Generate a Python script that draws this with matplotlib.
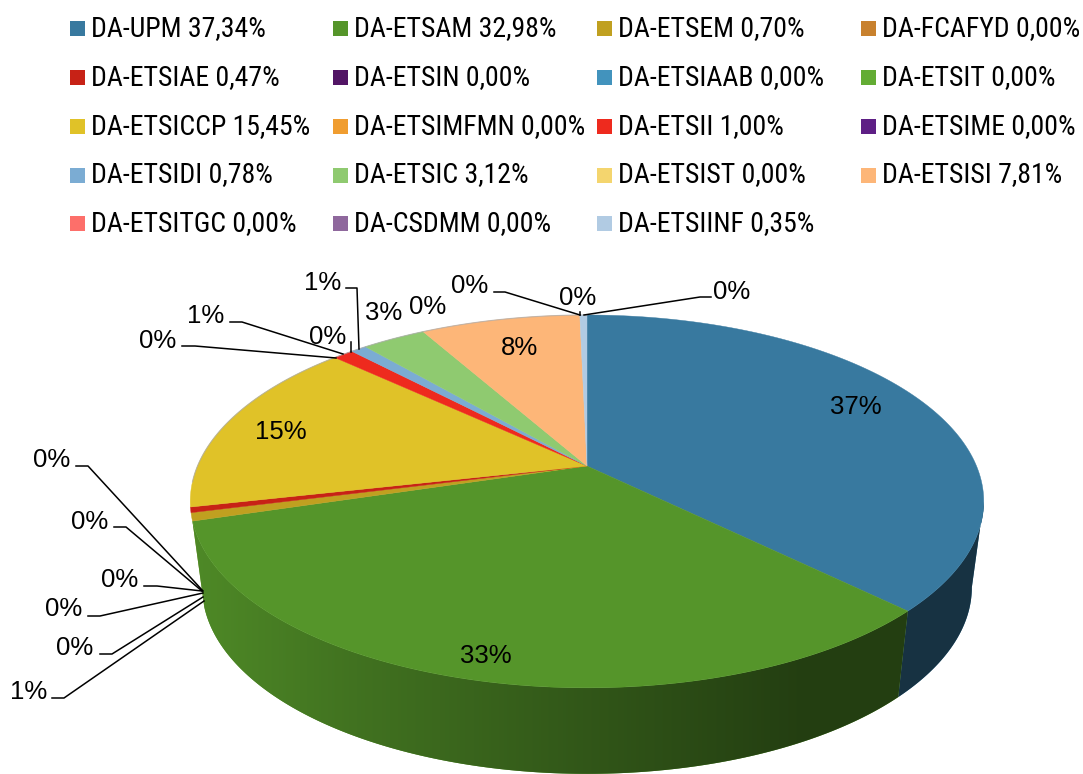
import matplotlib
matplotlib.use('Agg')
import matplotlib.pyplot as plt
import matplotlib.font_manager as fm
from matplotlib.colors import to_rgb
from matplotlib.patches import Polygon, Rectangle
import numpy as np

names = ['DA-UPM', 'DA-ETSAM', 'DA-ETSEM', 'DA-FCAFYD',
         'DA-ETSIAE', 'DA-ETSIN', 'DA-ETSIAAB', 'DA-ETSIT',
         'DA-ETSICCP', 'DA-ETSIMFMN', 'DA-ETSII', 'DA-ETSIME',
         'DA-ETSIDI', 'DA-ETSIC', 'DA-ETSIST', 'DA-ETSISI',
         'DA-ETSITGC', 'DA-CSDMM', 'DA-ETSIINF']
values = [37.34, 32.98, 0.70, 0.00,
          0.47, 0.00, 0.00, 0.00,
          15.45, 0.00, 1.00, 0.00,
          0.78, 3.12, 0.00, 7.81,
          0.00, 0.00, 0.35]
colors = ['#38799f', '#55952a', '#c0a020', '#c8812e',
          '#c72216', '#521565', '#4293bd', '#63ac34',
          '#e0c228', '#f09d30', '#ee2a1e', '#5e1f85',
          '#7bacd3', '#8fca70', '#f4d56e', '#fdb678',
          '#fd6f6a', '#8f689d', '#b1cbe3']

# label position per slice, in picture pixels
label_pos = [(856, 407), (486, 656), (29, 692), (75, 648),
             (64, 609), (120, 580), (90, 522), (52, 460),
             (281, 432), (158, 341), (206, 316), (328, 337),
             (323, 283), (384, 313), (428, 307), (519, 348),
             (470, 286), (578, 298), (732, 292)]

# leader lines, same order as the small slices
leaders = [[(52, 698), (64, 698), (204, 601)],
           [(100, 654), (112, 654), (203, 597)],
           [(88, 616), (100, 616), (203, 593)],
           [(144, 586), (157, 586), (202, 591)],
           [(114, 527), (126, 527), (202, 591)],
           [(76, 466), (88, 466), (203, 591)],
           [(182, 346), (195, 346), (336, 358)],
           [(230, 322), (242, 322), (343, 354)],
           [(351, 342), (351, 352)],
           [(346, 288), (357, 288), (359, 349)],
           [(494, 292), (505, 292), (580, 315)],
           [(580, 312), (580, 315)],
           [(584, 315), (700, 297), (711, 297)]]

# pie geometry: a circle seen in perspective
cx, cy = 587, 466
bx, ay, k = 389.5, 179.7, 0.19
depth, shrink = 86, 0.97
wall_from, wall_to = np.arccos(-k), np.radians(253.3)


def top_xy(theta):
    u, v = np.sin(theta), np.cos(theta)
    return cx + bx * u / (1 + k * v), cy - ay * v / (1 + k * v)


def wall_shade(x):
    return np.interp(x, [195, 350, 587, 800, 985], [0.92, 0.77, 0.58, 0.42, 0.42])


# condensed font if there is one, else plain and smaller
avail = {f.name for f in fm.fontManager.ttflist}
legend_font, legend_size = 'Liberation Sans', 16
if 'Roboto Condensed' in avail:
    legend_font, legend_size = 'Roboto Condensed', 20

fig = plt.figure(figsize=(10.83, 7.74), dpi=100)
ax = fig.add_axes([0, 0, 1, 1])
ax.axis('off')

edges = np.radians(np.concatenate([[0], np.cumsum(values)]) * 3.6)

# side wall first, top slices go over it
for i, val in enumerate(values):
    t0, t1 = max(edges[i], wall_from), min(edges[i + 1], wall_to)
    if val == 0 or t1 <= t0:
        continue
    th = np.linspace(t0, t1, 150)
    x, y = top_xy(th)
    xb, yb = cx + shrink * (x - cx), y + depth
    poly = Polygon(np.c_[np.r_[x, xb[::-1]], np.r_[y, yb[::-1]]], closed=True, color=colors[i], lw=0, zorder=1)
    ax.add_patch(poly)
    xs = np.arange(180, 1000)
    strip = np.outer(wall_shade(xs), np.array(to_rgb(colors[i])))[np.newaxis, :, :]
    im = ax.imshow(strip, extent=(180, 1000, 800, 300), aspect='auto', zorder=1.5, interpolation='bilinear')
    im.set_clip_path(poly)

for i, val in enumerate(values):
    if val == 0:
        continue
    th = np.linspace(edges[i], edges[i + 1], max(int(val * 8), 4))
    x, y = top_xy(th)
    ax.fill(np.r_[cx, x], np.r_[cy, y], color=colors[i], lw=0.3, zorder=2)

# faint grey rim along the back
th = np.linspace(np.radians(265), np.radians(360), 120)
ax.plot(*top_xy(th), color='#aaaaaa', lw=0.8, alpha=0.7, zorder=3)

for line in leaders:
    xs, ys = zip(*line)
    ax.plot(xs, ys, color='black', lw=1.1, zorder=4, solid_joinstyle='round')

for val, pos in zip(values, label_pos):
    ax.text(pos[0], pos[1], '%d%%' % round(val + 1e-9), fontsize=18.5, family='Liberation Sans',
            ha='center', va='center', color='black', zorder=5)

# legend, 4 columns
col_x = [70, 333, 597, 861]
row_y = [28.5, 77.5, 126.5, 175, 223.5]
for i, (name, val) in enumerate(zip(names, values)):
    r, c = divmod(i, 4)
    ax.add_patch(Rectangle((col_x[c], row_y[r] - 7.5), 15, 15, color=colors[i], lw=0, zorder=5))
    ax.text(col_x[c] + 21, row_y[r], '%s %s%%' % (name, ('%.2f' % val).replace('.', ',')),
            fontsize=legend_size, family=legend_font, ha='left', va='center', color='black', zorder=5)

ax.set_xlim(0, 1083)
ax.set_ylim(774, 0)
fig.savefig('out.png', dpi=100)
